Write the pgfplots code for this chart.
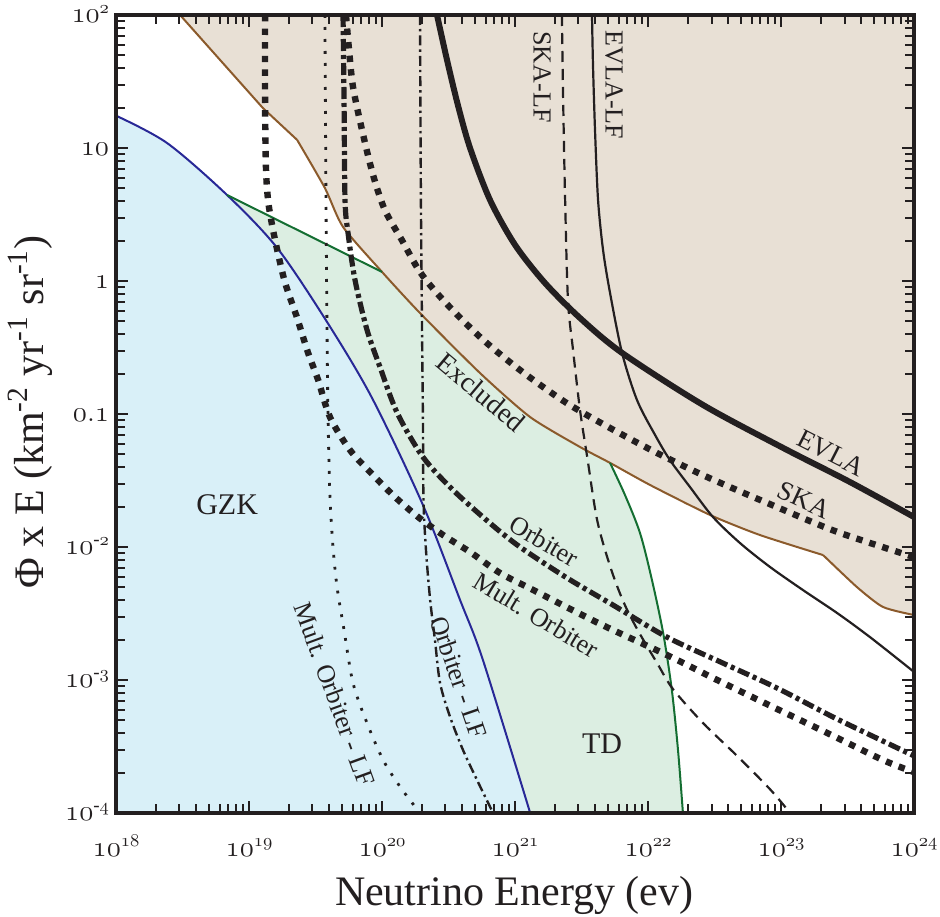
\documentclass[border=0pt]{standalone}
\usepackage{fontspec}
\setmainfont{Liberation Serif}
\usepackage{pgfplots}
\pgfplotsset{compat=1.18}
\definecolor{exclfill}{RGB}{232,224,213}
\definecolor{exclline}{RGB}{139,90,43}
\definecolor{gzkfill}{RGB}{217,240,248}
\definecolor{gzkline}{RGB}{40,40,150}
\definecolor{tdfill}{RGB}{220,238,226}
\definecolor{tdline}{RGB}{20,110,50}
\definecolor{ink}{RGB}{35,31,32}
\newcommand\on[1]{\mathnormal{#1}}
\newcommand\ex[1]{\raisebox{4.7pt}{\fontsize{9.5}{9.5}\selectfont$\on{#1}$}}
\newcommand\exn[1]{\raisebox{4.7pt}{\fontsize{9.5}{9.5}\selectfont -$\on{#1}$}}
\begin{document}
\begin{tikzpicture}
\useasboundingbox (0,0) rectangle (470pt,458pt);
\begin{axis}[
  at={(58pt,51.5pt)}, anchor=south west, scale only axis,
  width=399pt, height=399pt,
  xmode=log, ymode=log, xmin=1e18, xmax=1e24, ymin=1e-4, ymax=1e2,
  axis on top,
  axis line style={line width=2pt, ink},
  tick style={line width=1pt, ink},
  major tick length=6pt, minor tick length=4.5pt, tick align=inside,
  xtick={1e18,1e19,1e20,1e21,1e22,1e23,1e24},
  xticklabels={$\on{10}$\ex{18},$\on{10}$\ex{19},$\on{10}$\ex{20},$\on{10}$\ex{21},$\on{10}$\ex{22},$\on{10}$\ex{23},$\on{10}$\ex{24}},
  ytick={1e-4,1e-3,1e-2,1e-1,1,10,100},
  yticklabels={$\on{10}$\exn{4},$\on{10}$\exn{3},$\on{10}$\exn{2},$\on{0.1}$,$\on{1}$,$\on{10}$,$\on{10}$\ex{2}},
  ticklabel style={font=\fontsize{15.5}{15.5}\selectfont, text=ink},
  xticklabel style={anchor=base, yshift=-21.5pt},
  yticklabel style={anchor=base east, yshift=-3.7pt},
  xlabel={Neutrino Energy (ev)},
  ylabel={Φ x E (km\textsuperscript{-2} yr\textsuperscript{-1} sr\textsuperscript{-1})},
  label style={font=\fontsize{21}{21}\selectfont, text=ink},
  xlabel style={at={(axis description cs:0.499,-0.116)}, anchor=base},
  ylabel style={at={(axis description cs:-0.0915,0.5025)}, anchor=base},
]
% fills
\addplot[draw=none, fill=exclfill] coordinates {(3.03e18,100) (1.27e19,20.0) (2.30e19,11.5) (3.72e19,5.0) (5.09e19,2.55) (1e20,1.17) (1.93e20,0.574) (5.46e20,0.203) (1.30e21,0.0948) (3.08e21,0.0565) (5.18e21,0.0429) (1.04e22,0.0292) (2.93e22,0.0174) (6.95e22,0.0123) (2.07e23,0.0087) (3.72e23,0.0050) (5.85e23,0.00354) (1e24,0.00308) (1e24,100)} -- cycle;
\addplot[draw=none, fill=tdfill] coordinates {(6.84e18,4.43) (1e20,1.17) (1.93e20,0.574) (5.46e20,0.203) (1.30e21,0.0948) (3.08e21,0.0565) (5.18e21,0.0429) (6.71e21,0.0246) (8.71e21,0.0127) (1.07e22,0.00565) (1.30e22,0.00225) (1.51e22,8.41e-4) (1.68e22,2.98e-4) (1.83e22,1e-4) (6.84e18,1e-4)} -- cycle;
\addplot[draw=none, fill=gzkfill] coordinates {(1e18,17.5) (2.42e18,10.9) (4.2e18,7.0) (6.84e18,4.43) (1.1e19,2.8) (1.63e19,1.77) (2.5e19,0.98) (3.86e19,0.492) (5.7e19,0.26) (8.41e19,0.132) (1.3e20,0.056) (2.03e20,0.0207) (2.8e20,0.0091) (3.86e20,0.0040) (5.74e20,0.00141) (8.6e20,4.0e-4) (1.30e21,1e-4) (1e18,1e-4)} -- cycle;
% boundaries
\addplot[exclline, line width=1pt] coordinates {(3.03e18,100) (1.27e19,20.0) (2.30e19,11.5)};
\addplot[exclline, line width=1pt, smooth, tension=0.4] coordinates {(2.30e19,11.5) (3.72e19,5.0) (5.09e19,2.55) (1e20,1.17) (1.93e20,0.574) (5.46e20,0.203) (1.30e21,0.0948) (3.08e21,0.0565) (5.18e21,0.0429) (1.04e22,0.0292) (2.93e22,0.0174) (6.95e22,0.0123) (2.07e23,0.0087)};
\addplot[exclline, line width=1pt, smooth, tension=0.4] coordinates {(2.07e23,0.0087) (3.72e23,0.0050) (5.85e23,0.00354) (1e24,0.00308)};
\addplot[gzkline, line width=1pt, smooth] coordinates {(1e18,17.5) (2.42e18,10.9) (6.84e18,4.43) (1.63e19,1.77) (3.86e19,0.492) (8.41e19,0.132) (2.03e20,0.0207) (3.86e20,0.0040) (5.74e20,0.00141) (1.30e21,1e-4)};
\addplot[tdline, line width=1pt] coordinates {(6.84e18,4.43) (1e20,1.17)};
\addplot[tdline, line width=1pt, smooth] coordinates {(5.18e21,0.0429) (6.71e21,0.0246) (8.71e21,0.0127) (1.07e22,0.00565) (1.30e22,0.00225) (1.51e22,8.41e-4) (1.68e22,2.98e-4) (1.83e22,1e-4)};
% EVLA
\addplot[ink, line width=3pt, smooth] coordinates {(2.59e20,100) (3.08e20,45.9) (3.72e20,21.0) (4.59e20,10.0) (6.49e20,4.06) (1e21,1.87) (1.68e21,0.966) (3.08e21,0.527) (6.38e21,0.288) (2.59e22,0.117) (1.04e23,0.0555) (3.30e23,0.0308) (1e24,0.0168)};
% SKA
\addplot[ink, line width=3.2pt, dash pattern=on 3.2pt off 3.6pt, smooth] coordinates {(5.36e19,100) (5.65e19,54.6) (6.05e19,28.8) (7.08e19,13.6) (8.56e19,6.27) (1.05e20,3.42) (1.41e20,2.03) (1.93e20,1.17) (2.88e20,0.719) (5.46e20,0.379) (1.09e21,0.214) (2.38e21,0.123) (5.18e21,0.0785) (1.17e22,0.0509) (2.78e22,0.0336) (8.55e22,0.0207) (2.64e23,0.0130) (1e24,0.0084)};
% Orbiter
\addplot[ink, line width=2.6pt, dash pattern=on 6pt off 2pt on 2pt off 2pt, smooth] coordinates {(5.09e19,100) (5.18e19,23.0) (5.27e19,4.06) (5.55e19,2.30) (6.26e19,1.02) (7.71e19,0.429) (9.66e19,0.225) (1.30e20,0.102) (2.03e20,0.0475) (3.42e20,0.0268) (6.49e20,0.0151) (1.09e21,0.01) (2.46e21,0.00585) (5.46e21,0.00366) (1.39e22,0.00210) (3.66e22,0.00134) (9.33e22,8.7e-4) (2.46e23,5.27e-4) (6.26e23,3.36e-4) (1e24,2.69e-4)};
% Mult. Orbiter
\addplot[ink, line width=3.2pt, dash pattern=on 3.2pt off 3.6pt, smooth] coordinates {(1.32e19,100) (1.32e19,23.0) (1.34e19,7.19) (1.39e19,4.06) (1.49e19,2.64) (1.63e19,1.71) (1.87e19,0.966) (2.30e19,0.527) (2.78e19,0.288) (3.31e19,0.180) (4.06e19,0.0948) (5.74e19,0.0536) (8.55e19,0.0348) (1.25e20,0.0238) (1.87e20,0.0168) (2.88e20,0.0123) (4.59e20,0.00917) (7.71e20,0.00638) (1.37e21,0.00475) (4.36e21,0.00264) (1.39e22,0.00154) (3.31e22,0.001) (8.71e22,6.26e-4) (2.22e23,4.0e-4) (5.85e23,2.50e-4) (1e24,2.03e-4)};
% EVLA-LF
\addplot[ink, line width=1.1pt, smooth] coordinates {(3.79e21,100) (3.86e21,40.6) (4.0e21,13.0) (4.21e21,4.06) (4.59e21,1.71) (5.18e21,0.813) (6.38e21,0.288) (8.27e21,0.127) (1.13e22,0.0695) (1.46e22,0.0451) (2.07e22,0.0282) (3.08e22,0.0168) (4.92e22,0.0107) (8.26e22,0.00708) (1.46e23,0.00475) (2.64e23,0.00319) (4.67e23,0.00210) (1e24,0.00115)};
% SKA-LF
\addplot[ink, line width=1.1pt, dash pattern=on 5.5pt off 3.5pt, smooth] coordinates {(2.25e21,100) (2.30e21,23.0) (2.38e21,4.06) (2.50e21,0.719) (2.73e21,0.303) (3.08e21,0.107) (3.48e21,0.0483) (4.14e21,0.0160) (5.18e21,0.00719) (6.49e21,0.00393) (8.27e21,0.00242) (1.17e22,0.00134) (1.54e22,8.55e-4) (2.59e22,4.75e-4) (4.67e22,2.69e-4) (8.26e22,1.51e-4) (1.17e23,1e-4)};
% Orbiter - LF
\addplot[ink, line width=1.2pt, dash pattern=on 5pt off 2pt on 1.2pt off 2pt, smooth] coordinates {(1.93e20,100) (1.96e20,4.06) (2.0e20,0.406) (2.03e20,0.0902) (2.05e20,0.0226) (2.14e20,0.00948) (2.30e20,0.0040) (2.50e20,0.0020) (2.73e20,9.5e-4) (3.25e20,5.27e-4) (4.06e20,2.98e-4) (5.18e20,1.77e-4) (6.84e20,1e-4)};
% Mult. Orbiter - LF
\addplot[ink, line width=1.4pt, dash pattern=on 1.4pt off 4.6pt, smooth] coordinates {(3.72e19,100) (3.79e19,4.06) (3.86e19,0.406) (3.93e19,0.0902) (4.06e19,0.0238) (4.28e19,0.01) (4.59e19,0.0050) (5.18e19,0.00238) (6.05e19,9.5e-4) (7.71e19,4.75e-4) (1.02e20,2.50e-4) (1.37e20,1.57e-4) (1.93e20,1e-4)};
% labels
\node[font=\fontsize{15}{15}\selectfont, text=ink] at (axis cs:6.84e18,0.0207) {GZK};
\node[font=\fontsize{15}{15}\selectfont, text=ink] at (axis cs:4.51e21,3.30e-4) {TD};
\node[font=\fontsize{14}{14}\selectfont, text=ink, rotate=-40] at (axis cs:5.55e20,0.146) {Excluded};
\node[font=\fontsize{13.5}{13.5}\selectfont, text=ink, rotate=-27] at (axis cs:2.38e23,0.0509) {EVLA};
\node[font=\fontsize{13.5}{13.5}\selectfont, text=ink, rotate=-25] at (axis cs:1.49e23,0.0226) {SKA};
\node[font=\fontsize{13}{13}\selectfont, text=ink, rotate=-30] at (axis cs:1.65e21,0.0111) {Orbiter};
\node[font=\fontsize{13}{13}\selectfont, text=ink, rotate=-31] at (axis cs:1.44e21,0.00308) {Mult. Orbiter};
\node[font=\fontsize{13}{13}\selectfont, text=ink, rotate=-90] at (axis cs:1.60e21,34.2) {SKA-LF};
\node[font=\fontsize{13}{13}\selectfont, text=ink, rotate=-90] at (axis cs:5.55e21,29.8) {EVLA-LF};
\node[font=\fontsize{13}{13}\selectfont, text=ink, rotate=-70] at (axis cs:4.4e19,7.85e-4) {Mult. Orbiter - LF};
\node[font=\fontsize{13}{13}\selectfont, text=ink, rotate=-71] at (axis cs:3.79e20,1.05e-3) {Orbiter - LF};
\end{axis}
\end{tikzpicture}
\end{document}
